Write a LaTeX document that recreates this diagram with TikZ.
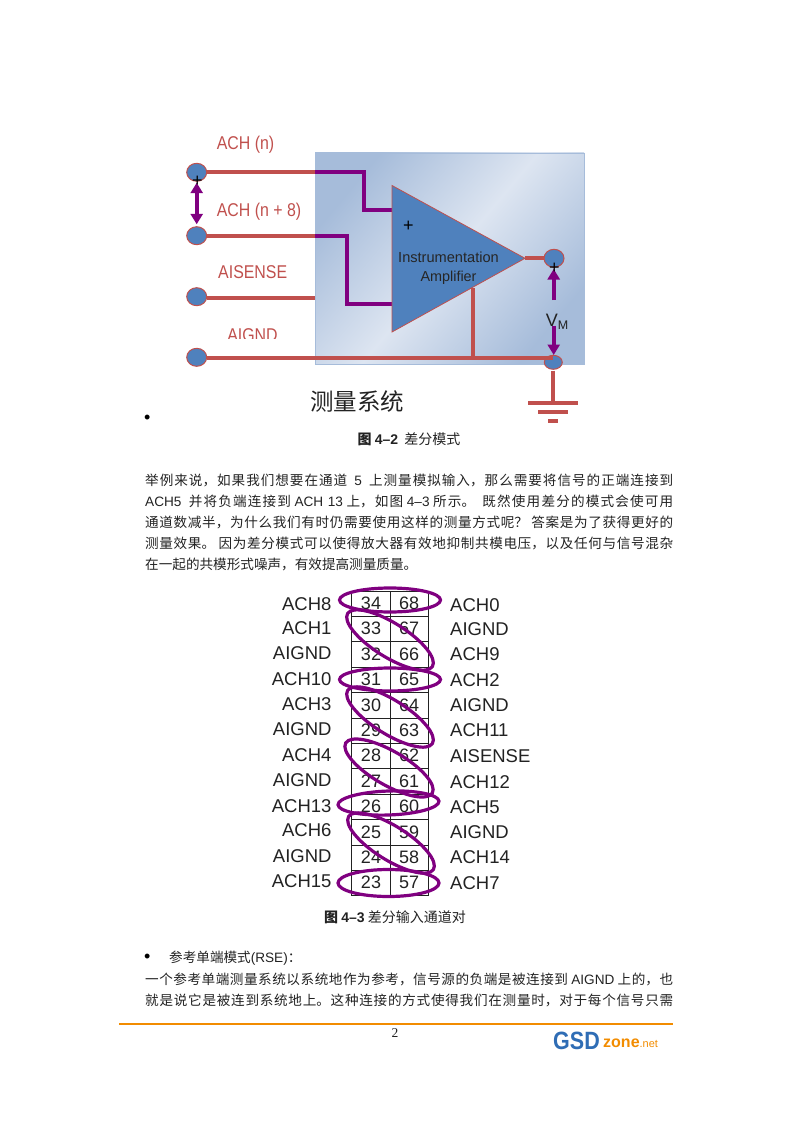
\documentclass[tikz,border=0pt]{standalone}
\usepackage{fontspec}
\setmainfont{Noto Sans CJK SC}
\newfontfamily\lat{Liberation Sans}
\newfontfamily\narrow[FakeStretch=0.86]{Liberation Sans}
\newfontfamily\numfont{Liberation Serif}
\XeTeXlinebreaklocale "zh"
\XeTeXlinebreakskip=0pt plus 3pt
\usetikzlibrary{arrows.meta,shapes.geometric}
\definecolor{wirered}{HTML}{C0504D}
\definecolor{wirepurple}{HTML}{800080}
\definecolor{ampblue}{HTML}{4F81BD}
\definecolor{boxdark}{HTML}{A6BCDA}
\definecolor{boxlight}{HTML}{DDE5F1}
\definecolor{rulegold}{HTML}{F28C00}
\definecolor{logoblue}{HTML}{2F6DB5}
\definecolor{inkgray}{HTML}{222222}
\newcommand{\fs}[1]{\fontsize{#1}{#1}\selectfont}
\tikzset{
  terminal/.style={ellipse,draw=wirered,line width=1pt,fill=ampblue,minimum width=20pt,minimum height=18pt,inner sep=0pt},
  redwire/.style={draw=wirered,line width=4.1pt},
  purplewire/.style={draw=wirepurple,line width=3.9pt},
  purplearrow/.style={draw=wirepurple,line width=4.1pt,-{Triangle[length=10.5pt,width=12pt]}},
  redlabel/.style={text=wirered,font=\narrow\fs{18.5},inner sep=0pt},
  signplus/.style={text=black,font=\lat\fs{18},inner sep=0pt},
  pincell/.style={rectangle,draw=inkgray,line width=0.9pt,minimum width=38.3pt,minimum height=25.4pt,inner sep=0pt,text=inkgray,font=\lat\fs{18}},
  pinleft/.style={anchor=east,inner sep=0pt,text=inkgray,font=\lat\fs{18.5}},
  pinright/.style={anchor=west,inner sep=0pt,text=inkgray,font=\lat\fs{18.5}},
  pairoval/.style={ellipse,draw=wirepurple,line width=3.2pt,inner sep=0pt},
  bodyline/.style={anchor=west,inner sep=0pt,text width=528pt,align=justify,text=inkgray,font=\fs{13.6},execute at begin node={\parfillskip=0pt}},
  caption/.style={inner sep=0pt,text=inkgray,font=\fs{14}}
}
\begin{document}
\begin{tikzpicture}[x=1pt,y=-1pt]
  \useasboundingbox (0,0) rectangle (794,1123);
  % measuring box and amplifier
  \node[rectangle,draw=boxdark,line width=0.8pt,top color=boxdark,bottom color=boxdark,middle color=boxlight,shading angle=50,minimum width=269pt,minimum height=211pt,inner sep=0pt] (sysbox) at (449.5,258.5) {};
  \node[terminal] (acha) at (196.7,172.3) {};
  \node[terminal] (achb) at (196.7,235.7) {};
  \node[terminal] (sense) at (196.7,296.7) {};
  \node[terminal] (gnd) at (196.7,357.3) {};
  \node[terminal] (vout) at (554,258.3) {};
  \node[terminal,minimum width=18pt,minimum height=14pt] (vref) at (553.3,362.3) {};
  \coordinate (ampa) at (392,185.5);
  \coordinate (ampb) at (392,332);
  \coordinate (ampc) at (525,258.3);
  \draw[redwire] (ampc) -- (vout);
  \draw[redwire] (acha) -- (315,172.3);
  \draw[redwire] (achb) -- (315,235.7);
  \draw[redwire] (sense.east |- 0,298) -- (315,298);
  \draw[purplewire] (315,172.3) -- (364,172.3) -- (364,210) -- (392,210);
  \draw[purplewire] (315,235.7) -- (346.7,235.7) -- (346.7,304.3) -- (392,304.3);
  \draw[fill=ampblue,draw=wirered,line width=0.8pt] (ampa) -- (ampc) -- (ampb) -- cycle;
  \draw[redwire] (472.7,288) -- (472.7,358);
  \draw[redwire] (gnd.east |- 0,358) -- (vref.north |- 0,358);
  % ground symbol
  \coordinate (gndtop) at (553,370.7);
  \coordinate (gndbar) at (553,402.7);
  \draw[redwire] (gndtop) -- (gndbar);
  \draw[redwire] (528,402.7) -- (578,402.7);
  \draw[redwire] (538,412) -- (568,412);
  \draw[redwire] (548,421) -- (558,421);
  % measured voltages
  \draw[draw=wirepurple,line width=4.1pt,{Triangle[length=10.5pt,width=12pt]}-{Triangle[length=10.5pt,width=12pt]}] (196.7,182.7) -- (196.7,224.3);
  \draw[purplearrow] (553.7,300) -- (553.7,269);
  \draw[purplearrow] (553.7,325.7) -- (553.7,355);
  \node[signplus] (plusa) at (197.3,181.3) {+};
  \node[signplus] (plusb) at (408.3,226) {+};
  \node[signplus] (plusc) at (554.3,268) {+};
  \node[inner sep=0pt,text=inkgray,font=\lat] (vm) at (557,322) {\fs{18}V\raisebox{-3pt}{\fs{12.5}M}};
  \node[inner sep=0pt,font=\lat\fs{14.6},text=black!85] (ampname) at (448.5,257) {Instrumentation};
  \node[inner sep=0pt,font=\lat\fs{14.4},text=black!85] (ampword) at (448.5,278) {Amplifier};
  \node[redlabel] (labela) at (245.5,144.5) {ACH (n)};
  \node[redlabel] (labelb) at (259,211.5) {ACH (n + 8)};
  \node[redlabel] (labelc) at (252.7,272) {AISENSE};
  \begin{scope}
    \clip (220,320) rectangle (285,338.3);
    \node[redlabel] (labeld) at (252.5,335) {AIGND};
  \end{scope}
  \node[inner sep=0pt,text=inkgray,font=\fs{23.5}] (systitle) at (357,401) {测量系统};
  \node[inner sep=0pt,font=\lat\fs{18}] (bulleta) at (147.3,419) {•};
  \node[caption] (capa) at (409,439) {{\bfseries 图 \lat 4–2}\ \ 差分模式};
  % text block
  \node[bodyline] (linea) at (145,480) {举例来说，如果我们想要在通道\ \ {\lat 5}\ \ 上测量模拟输入，那么需要将信号的正端连接到};
  \node[bodyline] (lineb) at (145,501) {{\lat ACH5}\ \ 并将负端连接到 {\lat ACH 13} 上，如图 {\lat 4–3} 所示。\ \ 既然使用差分的模式会使可用};
  \node[bodyline] (linec) at (145,522) {通道数减半，为什么我们有时仍需要使用这样的测量方式呢？\ 答案是为了获得更好的};
  \node[bodyline] (lined) at (145,543) {测量效果。\ 因为差分模式可以使得放大器有效地抑制共模电压，以及任何与信号混杂};
  \node[inner sep=0pt,anchor=west,text=inkgray,font=\fs{13.6}] (linee) at (145,564) {在一起的共模形式噪声，有效提高测量质量。};
  % pin table
  \foreach \n [count=\k from 0] in {34,33,...,23} {
    \node[pincell] (left\n) at (371,603.7+25.4*\k) {\raisebox{1pt}{\n}};
  }
  \foreach \n [count=\k from 0] in {68,67,...,57} {
    \node[pincell] (right\n) at (409.2,603.7+25.4*\k) {\raisebox{1pt}{\n}};
  }
  \foreach \y/\t [count=\k] in {604/ACH8,628.3/ACH1,653.3/AIGND,679/ACH10,704.3/ACH3,729/AIGND,755/ACH4,780/AIGND,806/ACH13,830/ACH6,855.7/AIGND,880.7/ACH15} {
    \node[pinleft] (namel\k) at (331.7,\y) {\t};
  }
  \foreach \y/\t [count=\k] in {605/ACH0,629.3/AIGND,654.3/ACH9,680/ACH2,705/AIGND,730/ACH11,755.7/AISENSE,781.7/ACH12,807.3/ACH5,832.3/AIGND,857.3/ACH14,882.7/ACH7} {
    \node[pinright] (namer\k) at (450,\y) {\t};
  }
  % differential pairs
  \node[pairoval,minimum width=101pt,minimum height=24pt] (ringa) at (390,600) {};
  \node[pairoval,minimum width=101pt,minimum height=23pt] (ringb) at (390,679.5) {};
  \node[pairoval,minimum width=101pt,minimum height=24pt,rotate=2] (ringc) at (388.5,803) {};
  \node[pairoval,minimum width=101pt,minimum height=27pt] (ringd) at (388.5,883) {};
  \node[pairoval,minimum width=100pt,minimum height=34pt,rotate=-32] (diaga) at (390,640) {};
  \node[pairoval,minimum width=100pt,minimum height=34pt,rotate=-32] (diagb) at (390,717) {};
  \node[pairoval,minimum width=100pt,minimum height=34pt,rotate=-30] (diagc) at (389,768) {};
  \node[pairoval,minimum width=100pt,minimum height=34pt,rotate=-32] (diagd) at (391,843) {};
  % lower text and footer
  \node[caption] (capb) at (395,917) {{\bfseries 图 \lat 4–3} 差分输入通道对};
  \node[inner sep=0pt,font=\lat\fs{18}] (bulletb) at (147.3,958) {•};
  \node[inner sep=0pt,anchor=west,text=inkgray,font=\fs{13.6}] (linef) at (169,958) {参考单端模式{\lat (RSE)}：};
  \node[bodyline] (lineg) at (145,979) {一个参考单端测量系统以系统地作为参考，信号源的负端是被连接到 {\lat AIGND} 上的，也};
  \node[bodyline] (lineh) at (145,1000) {就是说它是被连到系统地上。这种连接的方式使得我们在测量时，对于每个信号只需};
  \coordinate (rulea) at (119,1024);
  \coordinate (ruleb) at (673,1024);
  \draw[draw=rulegold,line width=2pt] (rulea) -- (ruleb);
  \node[inner sep=0pt,font=\numfont\fs{13.5},text=inkgray] (pagenum) at (395,1033) {2};
  \node[inner sep=0pt,anchor=west,font=\narrow\bfseries\fs{25},text=logoblue] (logogsd) at (553,1041) {GSD};
  \node[inner sep=0pt,anchor=west,font=\lat\bfseries\fs{16},text=rulegold] (logozone) at (603,1043) {zone\fs{11}\mdseries.net};
\end{tikzpicture}
\end{document}
